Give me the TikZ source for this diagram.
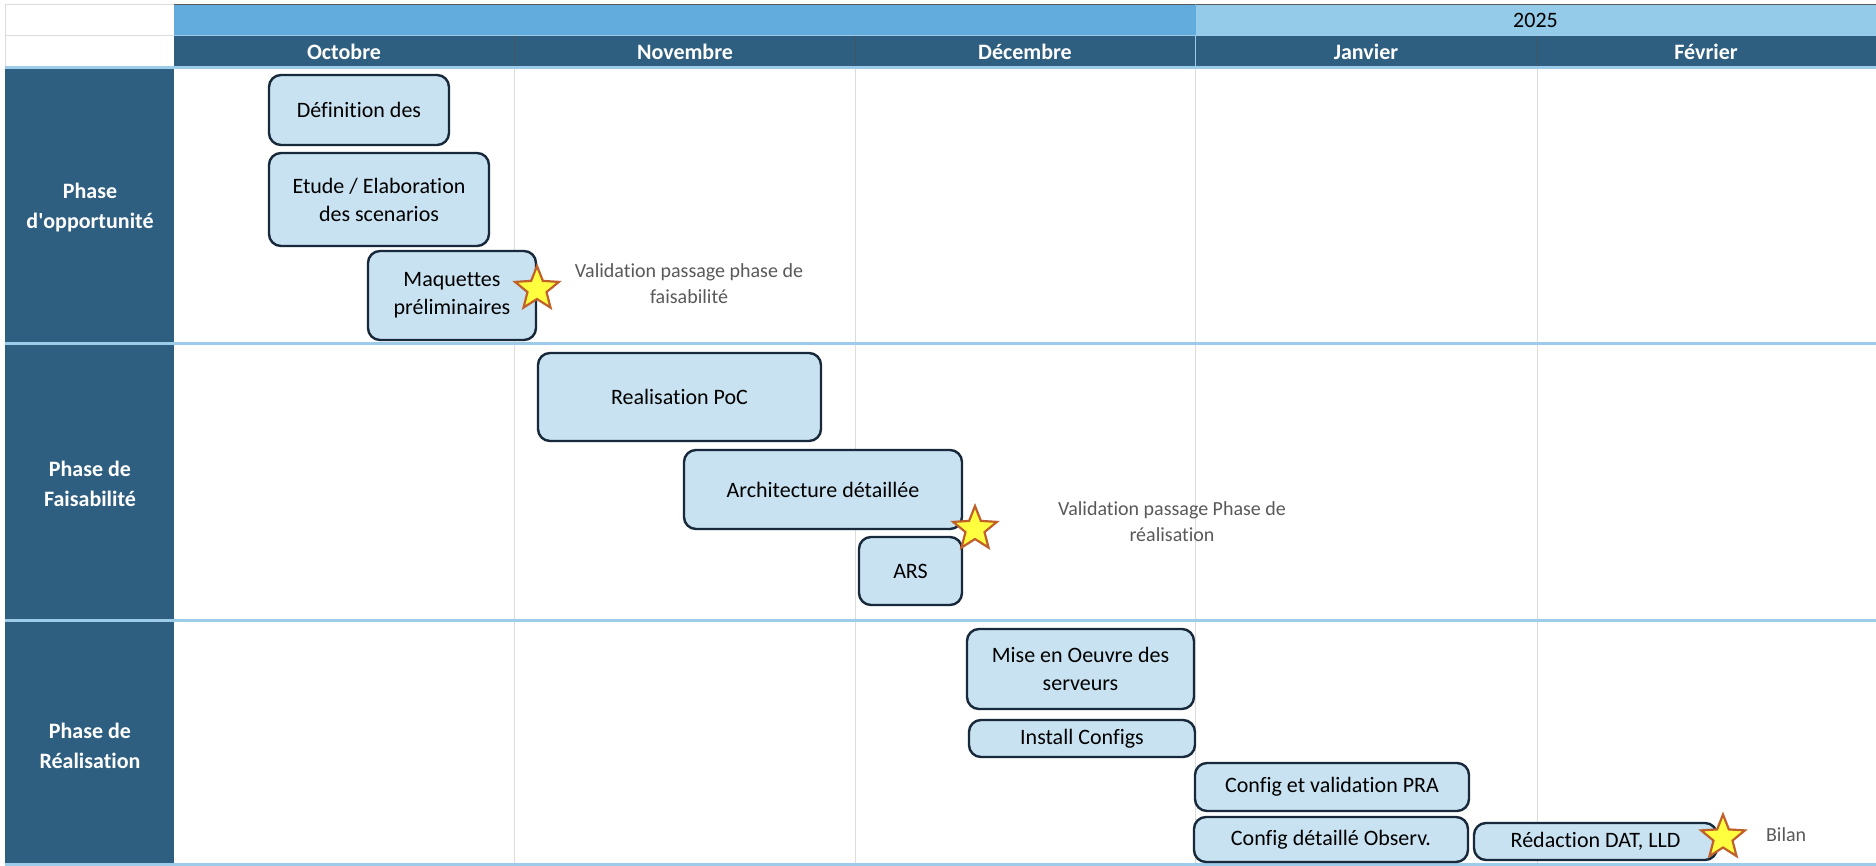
\documentclass[tikz,border=0pt]{standalone}
\usepackage{fontspec}
\setmainfont{Carlito}[Ligatures=NoCommon]
\usetikzlibrary{shapes.geometric}

\definecolor{bleufonce}{HTML}{2E5E80}
\definecolor{bleuannee}{HTML}{62ACDD}
\definecolor{bleuannee2}{HTML}{94CBE9}
\definecolor{bleuligne}{HTML}{9DCBEA}
\definecolor{bleutache}{HTML}{C8E2F1}
\definecolor{contour}{HTML}{17293A}
\definecolor{grille}{HTML}{DCDCDC}
\definecolor{jaune}{HTML}{FFFF40}
\definecolor{orangebrun}{HTML}{C0602A}
\definecolor{gristexte}{HTML}{595959}

\begin{document}
\begin{tikzpicture}[x=0.5pt, y=-0.5pt,
  tache/.style={draw=contour, fill=bleutache, line width=1.2pt, rounded corners=6pt,
    inner sep=0pt, align=center, font=\fontsize{11}{14}\selectfont},
  jalon/.style={star, star points=5, star point ratio=2.3, minimum size=23pt, inner sep=0pt,
    fill=jaune, draw=orangebrun, line width=1.1pt},
  note/.style={text=gristexte, align=center, font=\fontsize{10}{13}\selectfont},
  phase/.style={text=white, align=center, font=\bfseries\fontsize{11}{15}\selectfont},
  mois/.style={text=white, font=\bfseries\fontsize{11}{13}\selectfont}]
  \useasboundingbox[fill=white] (0,0) rectangle (1876,866);

  % Header: year and months
  \fill[bleuannee] (174,4) rectangle (1195,35);
  \fill[bleuannee2] (1195,4) rectangle (1876,35);
  \fill[bleufonce] (174,36) rectangle (1876,67);
  \draw[grille] (5,4) -- (174,4) (5,35) -- (174,35) (5,4) -- (5,68);
  \draw[gray!70!black] (174,4) -- (1876,4);
  \draw[bleuligne] (174,35.5) -- (1876,35.5);
  \draw[bleuannee] (1195,4) -- (1195,35);
  \draw[contour!80] (514.5,36) -- (514.5,67) (855,36) -- (855,67) (1537,36) -- (1537,67);
  \draw[bleuligne] (1195,36) -- (1195,67);
  \node (annee) at (1535.5,20) {\fontsize{11}{13}\selectfont 2025};
  \node[mois] (oct) at (344,52) {Octobre};
  \node[mois] (nov) at (685,52) {Novembre};
  \node[mois] (dec) at (1025,52) {Décembre};
  \node[mois] (jan) at (1366,52) {Janvier};
  \node[mois] (fev) at (1706,52) {Février};

  % Grid
  \draw[grille] (514.5,68) -- (514.5,866) (855,68) -- (855,866)
    (1195,68) -- (1195,866) (1537,68) -- (1537,866);

  % Phase column
  \fill[bleufonce] (5,68) rectangle (174,864);
  \draw[bleuligne, line width=1.5pt] (5,68) -- (1876,68) (5,344) -- (1876,344)
    (5,620) -- (1876,620) (5,864) -- (1876,864);
  \node[phase] (p1) at (90,208) {Phase\\d\textquotesingle opportunité};
  \node[phase] (p2) at (90,484) {Phase de\\Faisabilité};
  \node[phase] (p3) at (90,746) {Phase de\\Réalisation};

  % Phase d'opportunite
  \node[tache, minimum width=90pt, minimum height=35pt] (def) at (359,110) {Définition des};
  \node[tache, minimum width=110pt, minimum height=46.5pt] (etude) at (379,199.5) {Etude / Elaboration\\des scenarios};
  \node[tache, minimum width=84pt, minimum height=44.5pt] (maq) at (452,295.5) {Maquettes\\préliminaires};
  \node[jalon] (j1) at (537,289) {};
  \node[note] (v1) at (689,284) {Validation passage phase de\\faisabilité};

  % Phase de faisabilite
  \node[tache, minimum width=141.5pt, minimum height=44pt] (poc) at (679.5,397) {Realisation PoC};
  \node[tache, minimum width=139pt, minimum height=39.5pt] (archi) at (823,489.5) {Architecture détaillée};
  \node[tache, minimum width=51.5pt, minimum height=34pt] (ars) at (910.5,571) {ARS};
  \node[jalon] (j2) at (975,529) {};
  \node[note] (v2) at (1172,521.5) {Validation passage Phase de\\réalisation};

  % Phase de realisation
  \node[tache, minimum width=113.5pt, minimum height=40pt] (mise) at (1080.5,669) {Mise en Oeuvre des\\serveurs};
  \node[tache, minimum width=113pt, minimum height=18.5pt] (install) at (1082,738.5) {Install Configs};
  \node[tache, minimum width=137pt, minimum height=24pt] (pra) at (1332,787) {Config et validation PRA};
  \node[tache, minimum width=137pt, minimum height=22.5pt] (obs) at (1331,839.5) {Config détaillé Observ.};
  \node[tache, minimum width=121.5pt, minimum height=18.5pt] (dat) at (1595.5,841.5) {Rédaction DAT, LLD};
  \node[jalon] (j3) at (1723,837.5) {};
  \node[note, anchor=west] (bilan) at (1759,835) {Bilan};
\end{tikzpicture}
\end{document}
